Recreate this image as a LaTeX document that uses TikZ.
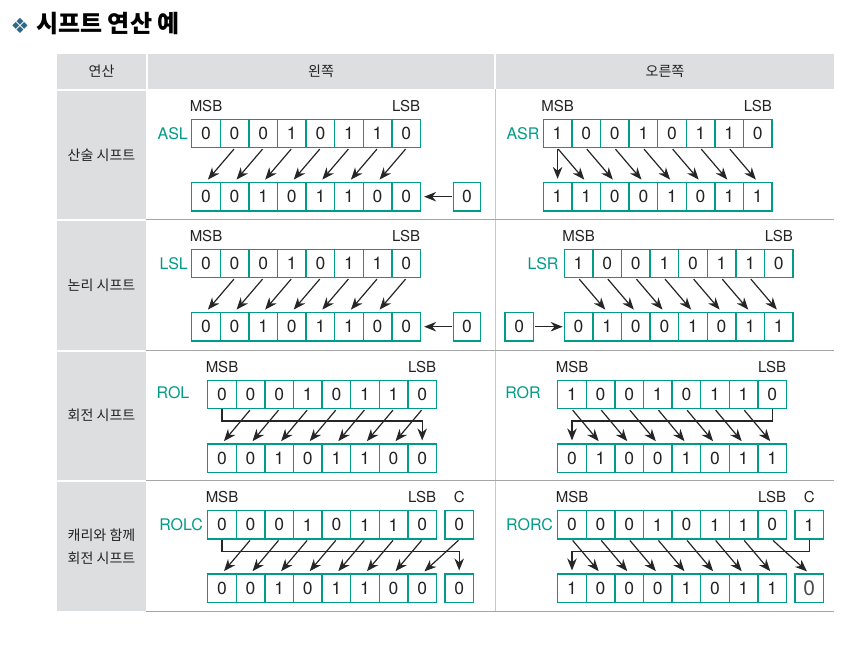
\documentclass[tikz,border=0pt]{standalone}
\usepackage{fontspec}
\setmainfont{TeX Gyre Heros}
\newfontfamily\krfont{Noto Sans CJK KR}
\newfontfamily\djfont{DejaVu Sans}
\usetikzlibrary{arrows.meta,calc}
\definecolor{tealc}{RGB}{0,156,136}
\definecolor{hdrgrey}{RGB}{220,222,224}
\definecolor{lingrey}{RGB}{165,165,165}
\definecolor{vgrey}{RGB}{200,200,200}
\definecolor{txt}{RGB}{35,35,35}
\definecolor{diam}{RGB}{45,105,135}
\newcommand\bitrow[4]{\foreach \bv [count=\i] in {#4} {\node[bit] (#1\i) at ({#2+(\i-0.5)*28.6},#3) {\bv};}}
\begin{document}
\begin{tikzpicture}[x=1pt,y=-1pt,
  bit/.style={draw=tealc, line width=1.3pt, minimum width=28.6pt, minimum height=28.4pt, inner sep=0pt, text=txt, font=\fontsize{17.5}{17.5}\selectfont},
  arr/.style={-{Stealth[length=12pt,width=9.5pt]}, line width=1.2pt, black!85, shorten >=3pt, shorten <=1pt},
  wrap/.style={-{Stealth[length=12pt,width=9.5pt]}, line width=1.2pt, black!85, shorten >=3pt},
  lbl/.style={font=\fontsize{15}{15}\selectfont, text=txt, inner sep=0pt},
  op/.style={font=\fontsize{16}{16}\selectfont, text=tealc, inner sep=0pt},
  krl/.style={font=\krfont\fontsize{14}{14}\selectfont, text=txt, inner sep=0pt, align=center}]
\useasboundingbox[fill=white] (0,0) rectangle (856,662);
% title
\node[font=\djfont\fontsize{21}{21}\selectfont, text=diam, inner sep=0pt] (dia) at (20,25.5) {❖};
\node[font=\krfont\bfseries\fontsize{24}{24}\selectfont, inner sep=0pt, anchor=west] (title) at (36,24) {시프트 연산 예};
% table
\fill[hdrgrey] (57,54) rectangle (146,89);
\fill[hdrgrey] (148,54) rectangle (494,89);
\fill[hdrgrey] (496,54) rectangle (834,89);
\fill[hdrgrey] (57,90.5) rectangle (146,218.5);
\fill[hdrgrey] (57,221) rectangle (146,349.5);
\fill[hdrgrey] (57,351.5) rectangle (146,479.5);
\fill[hdrgrey] (57,481.5) rectangle (146,611);
\draw[vgrey, line width=0.8pt] (495,89) -- (495,611);
\foreach \yy in {219.5,350.5,480.5,611} \draw[lingrey, line width=0.8pt] (146,\yy) -- (834,\yy);
\node[krl] (h1) at (101.5,71.5) {연산};
\node[krl] (h2) at (321,71.5) {왼쪽};
\node[krl] (h3) at (665,71.5) {오른쪽};
\node[krl] (c1) at (101.5,155) {산술 시프트};
\node[krl] (c2) at (101.5,285) {논리 시프트};
\node[krl] (c3) at (101.5,415) {회전 시프트};
\node[krl] (c4a) at (101.5,535) {캐리와 함께};
\node[krl] (c4b) at (101.5,558) {회전 시프트};
% ---------- row 1 left: ASL
\bitrow{aT}{191.7}{133.5}{0,0,0,1,0,1,1,0}
\bitrow{aB}{191.7}{196.7}{0,0,1,0,1,1,0,0}
\node[bit, minimum width=27.5pt] (aX) at (467,196.7) {0};
\node[lbl] (aM) at ([yshift=13pt]aT1.north) {MSB};
\node[lbl] (aL) at ([yshift=13pt]aT8.north) {LSB};
\node[op, anchor=east] (aO) at ([xshift=-3pt]aT1.west) {ASL};
\foreach \j in {2,...,8} {\pgfmathtruncatemacro\k{\j-1}\draw[arr] (aT\j.south) -- (aB\k.north);}
\draw[arr] (aX.west) -- (aB8.east);
% ---------- row 1 right: ASR
\bitrow{bT}{543.3}{133.5}{1,0,0,1,0,1,1,0}
\bitrow{bB}{543.3}{196.7}{1,1,0,0,1,0,1,1}
\node[lbl] (bM) at ([yshift=13pt]bT1.north) {MSB};
\node[lbl] (bL) at ([yshift=13pt]bT8.north) {LSB};
\node[op, anchor=east] (bO) at ([xshift=-3pt]bT1.west) {ASR};
\foreach \j in {1,...,7} {\pgfmathtruncatemacro\k{\j+1}\draw[arr] (bT\j.south) -- (bB\k.north);}
\draw[arr] (bT1.south) -- (bB1.north);
% ---------- row 2 left: LSL
\bitrow{cT}{191.7}{263.5}{0,0,0,1,0,1,1,0}
\bitrow{cB}{191.7}{326.7}{0,0,1,0,1,1,0,0}
\node[bit, minimum width=27.5pt] (cX) at (467,326.7) {0};
\node[lbl] (cM) at ([yshift=13pt]cT1.north) {MSB};
\node[lbl] (cL) at ([yshift=13pt]cT8.north) {LSB};
\node[op, anchor=east] (cO) at ([xshift=-3pt]cT1.west) {LSL};
\foreach \j in {2,...,8} {\pgfmathtruncatemacro\k{\j-1}\draw[arr] (cT\j.south) -- (cB\k.north);}
\draw[arr] (cX.west) -- (cB8.east);
% ---------- row 2 right: LSR
\bitrow{dT}{564.3}{263.5}{1,0,0,1,0,1,1,0}
\bitrow{dB}{564.3}{326.7}{0,1,0,0,1,0,1,1}
\node[bit, minimum width=28.3pt] (dX) at (519.2,326.7) {0};
\node[lbl] (dM) at ([yshift=13pt]dT1.north) {MSB};
\node[lbl] (dL) at ([yshift=13pt]dT8.north) {LSB};
\node[op, anchor=east] (dO) at ([xshift=-5pt]dT1.west) {LSR};
\foreach \j in {1,...,7} {\pgfmathtruncatemacro\k{\j+1}\draw[arr] (dT\j.south) -- (dB\k.north);}
\draw[arr, shorten >=1pt] (dX.east) -- (dB1.west);
% ---------- row 3 left: ROL
\bitrow{eT}{207.7}{394.5}{0,0,0,1,0,1,1,0}
\bitrow{eB}{207.7}{458.3}{0,0,1,0,1,1,0,0}
\node[lbl] (eM) at ([yshift=13pt]eT1.north) {MSB};
\node[lbl] (eL) at ([yshift=13pt]eT8.north) {LSB};
\node[op] (eO) at (173,392.5) {ROL};
\draw[wrap] (eT1.south) -- ++(0,11.7) -| (eB8.north);
\foreach \j in {2,...,8} {\pgfmathtruncatemacro\k{\j-1}\draw[arr] (eT\j.south) -- (eB\k.north);}
% ---------- row 3 right: ROR
\bitrow{fT}{557.7}{394.5}{1,0,0,1,0,1,1,0}
\bitrow{fB}{557.7}{458.3}{0,1,0,0,1,0,1,1}
\node[lbl] (fM) at ([yshift=13pt]fT1.north) {MSB};
\node[lbl] (fL) at ([yshift=13pt]fT8.north) {LSB};
\node[op] (fO) at (523,392.5) {ROR};
\draw[wrap] (fT8.south) -- ++(0,11.7) -| (fB1.north);
\foreach \j in {1,...,7} {\pgfmathtruncatemacro\k{\j+1}\draw[arr] (fT\j.south) -- (fB\k.north);}
% ---------- row 4 left: ROLC
\bitrow{gT}{207.7}{524.8}{0,0,0,1,0,1,1,0}
\bitrow{gB}{207.7}{588.3}{0,0,1,0,1,1,0,0}
\node[bit, minimum width=28.3pt] (gC) at (459.2,524.8) {0};
\node[bit, minimum width=28.3pt] (gD) at (459.2,588.3) {0};
\node[lbl] (gM) at ([yshift=13pt]gT1.north) {MSB};
\node[lbl] (gL) at ([yshift=13pt]gT8.north) {LSB};
\node[lbl] (gCl) at ([yshift=13pt]gC.north) {C};
\node[op, anchor=east] (gO) at ([xshift=-4pt]gT1.west) {ROLC};
\draw[wrap] (gT1.south) -- ++(0,11.7) -| (gD.north);
\foreach \j in {2,...,8} {\pgfmathtruncatemacro\k{\j-1}\draw[arr] (gT\j.south) -- (gB\k.north);}
\draw[arr] (gC.south) -- (gB8.north);
% ---------- row 4 right: RORC
\bitrow{hT}{557.7}{524.8}{0,0,0,1,0,1,1,0}
\bitrow{hB}{557.7}{588.3}{1,0,0,0,1,0,1,1}
\node[bit, minimum width=28.3pt] (hC) at (809.2,524.8) {1};
\node[bit, minimum width=28.3pt, text=black!70, font=\fontsize{21}{21}\selectfont] (hD) at (809.2,588.3) {0};
\node[lbl] (hM) at ([yshift=13pt]hT1.north) {MSB};
\node[lbl] (hL) at ([yshift=13pt]hT8.north) {LSB};
\node[lbl] (hCl) at ([yshift=13pt]hC.north) {C};
\node[op, anchor=east] (hO) at ([xshift=-4pt]hT1.west) {RORC};
\draw[wrap] (hC.south) -- ++(0,11.7) -| (hB1.north);
\foreach \j in {1,...,7} {\pgfmathtruncatemacro\k{\j+1}\draw[arr] (hT\j.south) -- (hB\k.north);}
\draw[arr] (hT8.south) -- (hD.north);
\end{tikzpicture}
\end{document}
